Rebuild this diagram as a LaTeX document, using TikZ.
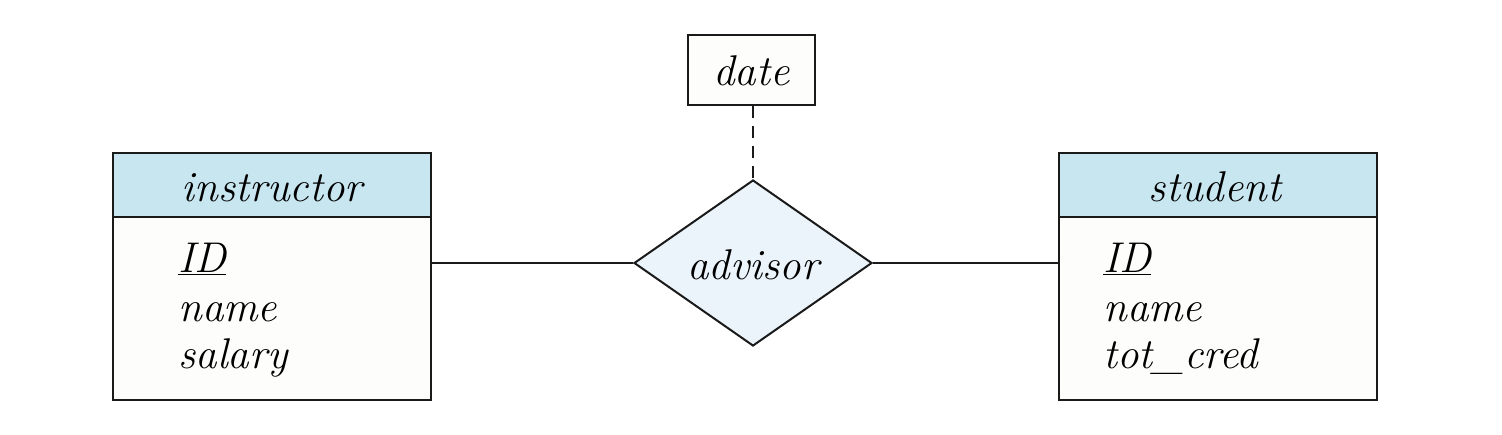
\documentclass[tikz,border=0pt]{standalone}
\usetikzlibrary{shapes.geometric}
\definecolor{hdr}{HTML}{C8E6F0}
\definecolor{relf}{HTML}{EBF4FA}
\definecolor{bodyf}{HTML}{FDFDFB}
\definecolor{ln}{HTML}{1A1A1A}
\begin{document}
\begin{tikzpicture}[x=0.5pt,y=-0.5pt,
  every node/.style={font=\fontsize{21.5}{24}\selectfont\itshape},
  hdrbox/.style={draw=ln,line width=1pt,fill=hdr,minimum width=159pt,minimum height=32pt,inner sep=0pt},
  bodybox/.style={draw=ln,line width=1pt,fill=bodyf,minimum width=159pt,minimum height=91.5pt,inner sep=0pt},
  attr/.style={anchor=base west,inner sep=0pt},
  ttl/.style={anchor=base,inner sep=0pt},
  conn/.style={draw=ln,line width=1pt}]
\useasboundingbox (0,0) rectangle (1502,434);
% instructor
\node[bodybox] (ibody) at (272,308.5) {};
\node[hdrbox] (ihdr) at (272,185) {};
\node[ttl] (it) at (272,201) {instructor};
\node[attr] (i1) at (178,272) {\underline{ID}};
\node[attr] (i2) at (178,321) {name};
\node[attr] (i3) at (178,368) {salary};
% student
\node[bodybox] (sbody) at (1217.5,308.5) {};
\node[hdrbox] (shdr) at (1217.5,185) {};
\node[ttl] (st) at (1215,201) {student};
\node[attr] (s1) at (1103,272) {\underline{ID}};
\node[attr] (s2) at (1103,321) {name};
\node[attr] (s3) at (1103,368) {tot\_cred};
% relationship
\node[diamond,draw=ln,line width=1pt,fill=relf,aspect=1.43,inner sep=0pt,minimum width=119pt,minimum height=83pt] (adv) at (753,263) {};
\node[ttl] (advt) at (753,279) {advisor};
% date
\node[draw=ln,line width=1pt,fill=bodyf,minimum width=63.5pt,minimum height=35pt,inner sep=0pt] (date) at (751.5,70) {};
\node[ttl] (datet) at (751.5,85) {date};
% connectors
\draw[conn] (ibody.east |- adv.west) -- (adv.west);
\draw[conn] (adv.east) -- (sbody.west |- adv.east);
\draw[conn,dashed,dash pattern=on 6pt off 4pt] (date.south -| adv.north) -- (adv.north);
\end{tikzpicture}
\end{document}
